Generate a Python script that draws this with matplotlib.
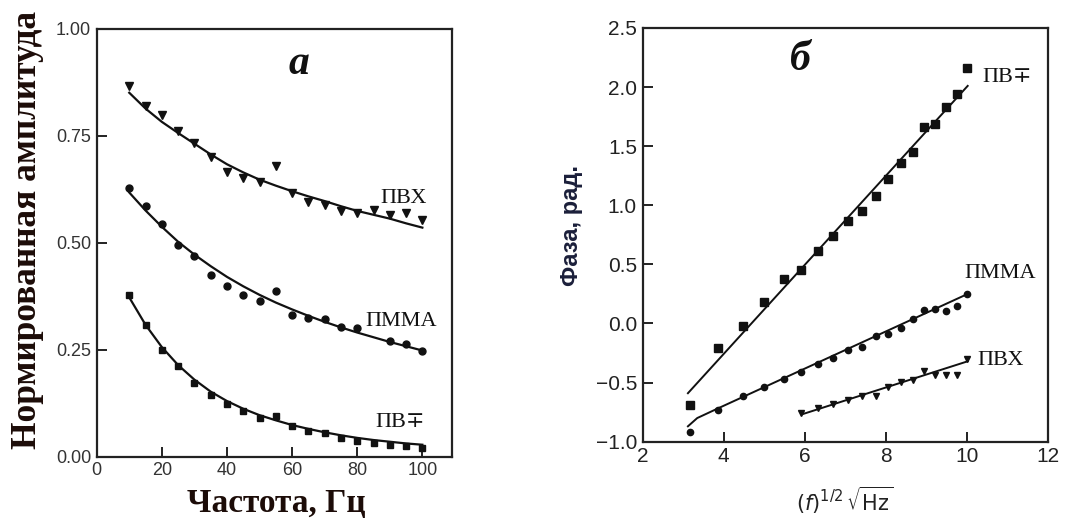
import matplotlib
matplotlib.use("Agg")
import matplotlib.pyplot as plt

plt.rcParams["mathtext.fontset"] = "dejavusans"

# ---------------- data: panel a (amplitude vs frequency) ----------------
freq = [10, 15, 20, 25, 30, 35, 40, 45, 50, 55, 60, 65, 70, 75, 80, 85, 90, 95, 100]
pvc_amp = [0.866, 0.819, 0.797, 0.760, 0.733, 0.699, 0.664, 0.651, 0.641, 0.679,
           0.615, 0.596, 0.588, 0.573, 0.569, 0.577, 0.565, 0.569, 0.553]
pvc_amp_fit = [0.850, 0.813, 0.782, 0.756, 0.731, 0.706, 0.683, 0.664, 0.647, 0.633,
               0.620, 0.608, 0.597, 0.585, 0.574, 0.565, 0.556, 0.545, 0.535]
pmma_freq = [10, 15, 20, 25, 30, 35, 40, 45, 50, 55, 60, 65, 70, 75, 80, 90, 95, 100]
pmma_amp = [0.628, 0.585, 0.544, 0.495, 0.468, 0.425, 0.398, 0.378, 0.363, 0.386,
            0.332, 0.325, 0.322, 0.302, 0.300, 0.270, 0.264, 0.246]
pmma_amp_fit = [0.617, 0.575, 0.537, 0.502, 0.472, 0.445, 0.420, 0.398, 0.378, 0.360,
                0.344, 0.329, 0.315, 0.302, 0.290, 0.279, 0.268, 0.258, 0.248]
pvf_amp = [0.378, 0.308, 0.250, 0.211, 0.173, 0.145, 0.124, 0.106, 0.091, 0.094,
           0.071, 0.059, 0.056, 0.044, 0.036, 0.033, 0.028, 0.024, 0.021]
pvf_amp_fit = [0.372, 0.308, 0.256, 0.214, 0.180, 0.152, 0.130, 0.112, 0.097, 0.085,
               0.074, 0.065, 0.057, 0.050, 0.044, 0.039, 0.035, 0.031, 0.028]

# ---------------- data: panel b (phase vs sqrt(f)) ----------------
sqrt_f = [3.16, 3.87, 4.47, 5.00, 5.48, 5.92, 6.32, 6.71, 7.07, 7.42,
          7.75, 8.06, 8.37, 8.66, 8.94, 9.22, 9.49, 9.75, 10.00]
pvf_phase = [-0.69, -0.21, -0.02, 0.18, 0.38, 0.45, 0.61, 0.74, 0.87, 0.95,
             1.08, 1.22, 1.36, 1.45, 1.66, 1.69, 1.83, 1.94, 2.16]
pmma_phase = [-0.92, -0.735, -0.61, -0.54, -0.47, -0.41, -0.34, -0.295, -0.225, -0.20,
              -0.11, -0.09, -0.035, 0.037, 0.11, 0.12, 0.107, 0.15, 0.247]
pvc_sqrt_f = [5.92, 6.32, 6.71, 7.07, 7.42, 7.75, 8.06, 8.37, 8.66, 8.94, 9.22, 9.49, 9.75, 10.00]
pvc_phase = [-0.755, -0.715, -0.685, -0.647, -0.615, -0.615, -0.535, -0.495, -0.48, -0.405,
             -0.44, -0.44, -0.44, -0.30]
pvf_fit_x = [3.12, 10.02]
pvf_fit_y = [-0.59, 2.01]
pmma_fit_x = [3.12, 3.35, 3.85, 10.02]
pmma_fit_y = [-0.87, -0.80, -0.72, 0.25]
pvc_fit_x = [5.92, 10.02]
pvc_fit_y = [-0.77, -0.32]

amp_ticks = [0.0, 0.25, 0.5, 0.75, 1.0]
amp_ticklabels = ["0.00", "0.25", "0.50", "0.75", "1.00"]
freq_ticks = [0, 20, 40, 60, 80, 100]
phase_ticks = [-1.0, -0.5, 0.0, 0.5, 1.0, 1.5, 2.0, 2.5]
phase_ticklabels = ["\u22121.0", "\u22120.5", "0.0", "0.5", "1.0", "1.5", "2.0", "2.5"]
sqrt_ticks = [2, 4, 6, 8, 10, 12]

SERIF = ["Liberation Serif", "DejaVu Serif"]
SANS = ["Liberation Sans", "DejaVu Sans"]
INK = "#111111"

fig = plt.figure(figsize=(10.65, 5.24), dpi=100)
axa = fig.add_axes([0.0908, 0.1284, 0.3333, 0.8172])
axb = fig.add_axes([0.6033, 0.1571, 0.3807, 0.7895])

for ax in (axa, axb):
    for s in ax.spines.values():
        s.set_linewidth(1.6)
        s.set_color("#222222")
    ax.tick_params(direction="in", length=7, width=1.4, colors="#222222",
                   top=False, right=False, pad=4)

# ---- panel a ----
lw = 1.6
axa.plot(freq, pvc_amp_fit, color=INK, lw=lw)
axa.plot(freq, pvc_amp, linestyle="none", marker="v", ms=5.5, color=INK)
axa.plot(freq, pmma_amp_fit, color=INK, lw=lw)
axa.plot(pmma_freq, pmma_amp, linestyle="none", marker="o", ms=5, color=INK)
axa.plot(freq, pvf_amp_fit, color=INK, lw=lw)
axa.plot(freq, pvf_amp, linestyle="none", marker="s", ms=5, color=INK)
axa.set_xlim(0, 109)
axa.set_ylim(0, 1.0)
axa.set_xticks(freq_ticks)
axa.set_yticks(amp_ticks)
axa.set_yticklabels(amp_ticklabels)
for lab in axa.get_xticklabels() + axa.get_yticklabels():
    lab.set_fontfamily(SANS)
    lab.set_fontsize(13)
    lab.set_color("#333333")

axa.text(87.0, 0.604, "ПВХ", family=SERIF, fontsize=16, va="center", ha="left", color=INK)
axa.text(82.5, 0.316, "ПММА", family=SERIF, fontsize=16, va="center", ha="left", color=INK)
axa.text(85.5, 0.079, "ПВ\u2213", family=SERIF, fontsize=16, va="center", ha="left", color=INK)
axa.text(62, 0.918, "a", family=SERIF, fontsize=30, style="italic", weight="bold",
         ha="center", va="center", color=INK)

fig.text(0.026, 0.562, "Нормированная амплитуда", rotation=90, family=SERIF,
         fontsize=25.5, weight="bold", ha="center", va="center", color="#1c0c08")
fig.text(0.259, 0.04, "Частота, Гц", family=SERIF, fontsize=24, weight="bold",
         ha="center", va="center", color="#1c0c08")

# ---- panel b ----
axb.plot(pvf_fit_x, pvf_fit_y, color=INK, lw=1.4)
axb.plot(sqrt_f, pvf_phase, linestyle="none", marker="s", ms=5.5, color=INK)
axb.plot(pmma_fit_x, pmma_fit_y, color=INK, lw=1.4)
axb.plot(sqrt_f, pmma_phase, linestyle="none", marker="o", ms=4.5, color=INK)
axb.plot(pvc_fit_x, pvc_fit_y, color=INK, lw=1.4)
axb.plot(pvc_sqrt_f, pvc_phase, linestyle="none", marker="v", ms=5, color=INK)
axb.set_xlim(2, 12)
axb.set_ylim(-1.0, 2.5)
axb.set_xticks(sqrt_ticks)
axb.set_yticks(phase_ticks)
axb.set_yticklabels(phase_ticklabels)
for lab in axb.get_xticklabels() + axb.get_yticklabels():
    lab.set_fontfamily(SANS)
    lab.set_fontsize(15)
    lab.set_color("#222222")

axb.text(10.38, 2.08, "ПВ\u2213", family=SERIF, fontsize=16, va="center", ha="left", color=INK)
axb.text(9.93, 0.42, "ПММА", family=SERIF, fontsize=16, va="center", ha="left", color=INK)
axb.text(10.26, -0.315, "ПВХ", family=SERIF, fontsize=16, va="center", ha="left", color=INK)
axb.text(5.9, 2.23, "б", family=SERIF, fontsize=30, style="italic", weight="bold",
         ha="center", va="center", color=INK)

fig.text(0.537, 0.57, "Фаза, рад.", rotation=90, family=SANS, fontsize=17,
         weight="bold", ha="center", va="center", color="#1b1f3a")
fig.text(0.793, 0.046, r"$(f)^{1/2}\,\sqrt{\mathrm{Hz}}$", fontsize=15,
         ha="center", va="center", color="#222222")

fig.savefig("out.png", dpi=100, facecolor="white")
